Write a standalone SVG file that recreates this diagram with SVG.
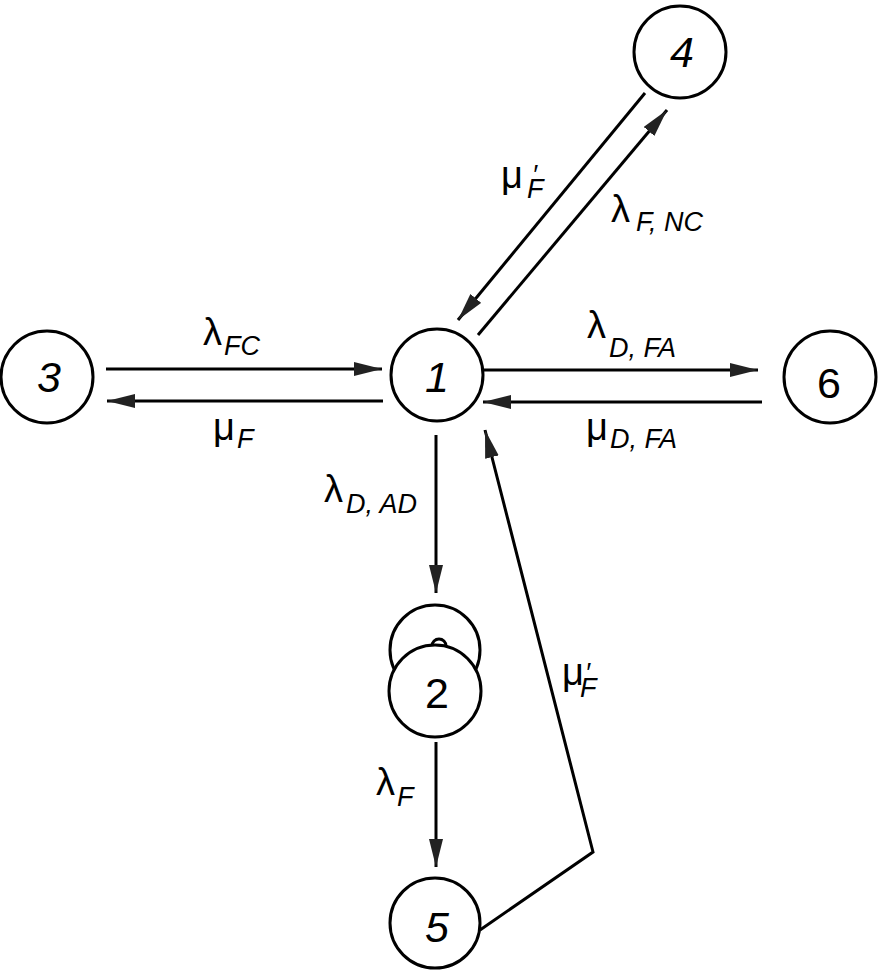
<svg xmlns="http://www.w3.org/2000/svg" width="879" height="973" viewBox="0 0 879 973">
<style>
.node{fill:#fff;stroke:#000;stroke-width:3}
.ring{fill:none;stroke:#000;stroke-width:3}
.num{font-family:"Liberation Sans",Arial,sans-serif;font-size:43px;text-anchor:middle;fill:#000}
.it{font-style:italic}
.edge{fill:none;stroke:#000;stroke-width:3}
.lbl{font-family:"Liberation Sans",Arial,sans-serif;fill:#000}
.g{font-size:38px}
.s{font-size:27px;font-style:italic}
</style>
<defs>
<marker id="ah" markerUnits="userSpaceOnUse" markerWidth="30" markerHeight="16" refX="28" refY="7" orient="auto">
<path d="M0,0 L28,7 L0,14 z" fill="#222"/>
</marker>
</defs>
<rect width="879" height="973" fill="#fff"/>
<g id="connectors">
<line class="edge" x1="106" y1="369" x2="382" y2="369" marker-end="url(#ah)"/>
<line class="edge" x1="383" y1="401" x2="107" y2="401" marker-end="url(#ah)"/>
<line class="edge" x1="483" y1="370" x2="758" y2="370" marker-end="url(#ah)"/>
<line class="edge" x1="762" y1="402" x2="483" y2="402" marker-end="url(#ah)"/>
<line class="edge" x1="645" y1="93" x2="458" y2="320" marker-end="url(#ah)"/>
<line class="edge" x1="478" y1="335" x2="667" y2="110" marker-end="url(#ah)"/>
<line class="edge" x1="436" y1="435" x2="436" y2="593" marker-end="url(#ah)"/>
<line class="edge" x1="436" y1="742" x2="436" y2="867" marker-end="url(#ah)"/>
<polyline class="edge" points="480,930 593,852 485,430" marker-end="url(#ah)"/>
</g>
<g id="labels">
<text class="lbl"><tspan class="g" x="203" y="345">λ</tspan><tspan class="s" x="224" y="355">FC</tspan></text>
<text class="lbl"><tspan class="g" x="213" y="440">μ</tspan><tspan class="s" x="237" y="448">F</tspan></text>
<text class="lbl"><tspan class="g" x="501" y="188">μ</tspan><tspan class="s" x="527" y="198">F</tspan><tspan class="s" x="532" y="184">′</tspan></text>
<text class="lbl"><tspan class="g" x="611" y="222">λ</tspan><tspan class="s" x="636" y="231">F, NC</tspan></text>
<text class="lbl"><tspan class="g" x="587" y="338">λ</tspan><tspan class="s" x="609" y="357">D, FA</tspan></text>
<text class="lbl"><tspan class="g" x="586" y="440">μ</tspan><tspan class="s" x="610" y="448">D, FA</tspan></text>
<text class="lbl"><tspan class="g" x="324" y="502">λ</tspan><tspan class="s" x="346" y="513">D, AD</tspan></text>
<text class="lbl"><tspan class="g" x="562" y="685">μ</tspan><tspan class="s" x="580" y="697">F</tspan><tspan class="s" x="585" y="682">′</tspan></text>
<text class="lbl"><tspan class="g" x="376" y="795">λ</tspan><tspan class="s" x="397" y="806">F</tspan></text>
</g>
<g id="node1"><circle class="node" cx="437" cy="375" r="46"/><text class="num it" x="437" y="392">1</text></g>
<g id="node2"><circle class="ring" cx="435" cy="650" r="45"/><circle class="node" cx="435" cy="691" r="46"/><path class="ring" d="M432,646 A7,7 0 0 1 446,646"/><text class="num" x="437" y="708">2</text></g>
<g id="node3"><circle class="node" cx="47" cy="377" r="46"/><text class="num it" x="49" y="392">3</text></g>
<g id="node4"><circle class="node" cx="680" cy="52" r="46"/><text class="num it" x="682" y="67">4</text></g>
<g id="node5"><circle class="node" cx="435" cy="923" r="45"/><text class="num it" x="437" y="942">5</text></g>
<g id="node6"><circle class="node" cx="830" cy="377" r="46"/><text class="num" x="829" y="398">6</text></g>
</svg>
